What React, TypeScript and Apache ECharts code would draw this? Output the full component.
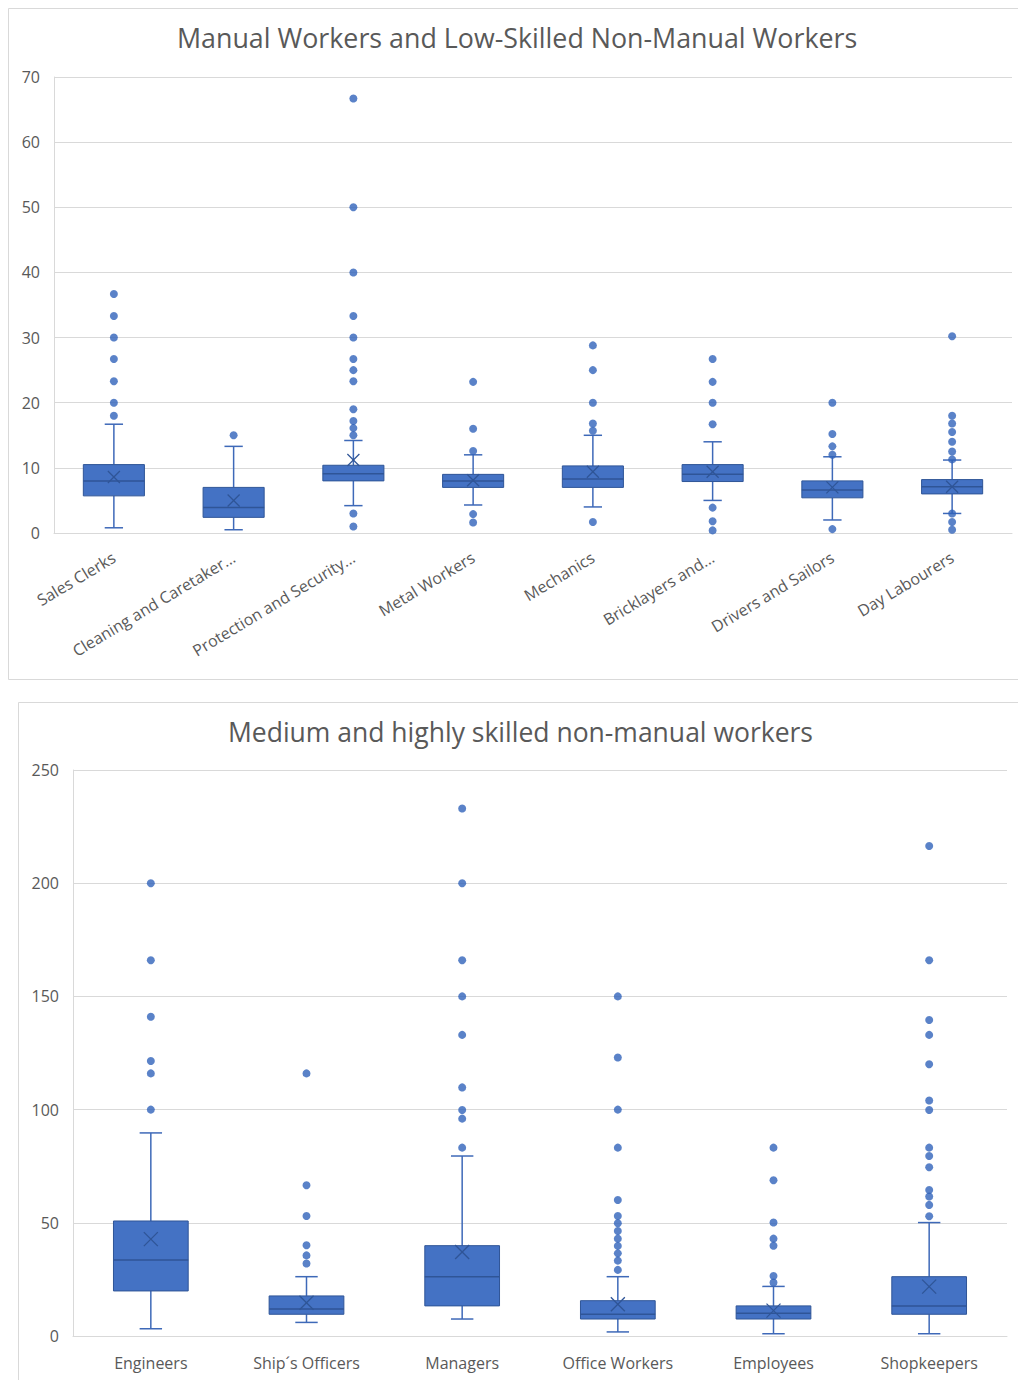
import React, { useEffect, useRef } from "react";
import * as echarts from "echarts";

// ---------- Chart 1 data ----------
const cats1 = [
  "Sales Clerks",
  "Cleaning and Caretaker…",
  "Protection and Security…",
  "Metal Workers",
  "Mechanics",
  "Bricklayers and…",
  "Drivers and Sailors",
  "Day Labourers",
];
// [min whisker, Q1, median, Q3, max whisker]
const box1 = [
  [0.8, 5.7, 8.0, 10.5, 16.7],
  [0.5, 2.4, 3.9, 7.0, 13.3],
  [4.2, 8.0, 9.1, 10.4, 14.2],
  [4.3, 7.0, 8.0, 9.0, 12.0],
  [4.0, 7.0, 8.3, 10.3, 15.0],
  [5.0, 7.9, 9.0, 10.5, 14.0],
  [2.0, 5.4, 6.6, 8.0, 11.7],
  [3.0, 6.0, 7.1, 8.2, 11.2],
];
const mean1 = [8.6, 5.0, 11.2, 8.1, 9.4, 9.4, 7.0, 7.1];
const out1 = [
  [36.7, 33.3, 30, 26.7, 23.3, 20, 18],
  [15],
  [66.7, 50, 40, 33.3, 30, 26.7, 25, 23.3, 19, 17.2, 16.1, 15, 3.0, 1.0],
  [23.2, 16, 12.6, 2.9, 1.6],
  [28.8, 25, 20, 16.8, 15.7, 1.7],
  [26.7, 23.2, 20, 16.7, 3.9, 1.8, 0.4],
  [20, 15.2, 13.3, 12.0, 0.6],
  [30.2, 18, 16.8, 15.5, 14, 12.5, 11.3, 3.0, 1.7, 0.5],
];
const yTicks1 = { min: 0, max: 70, interval: 10 };

// ---------- Chart 2 data ----------
const cats2 = ["Engineers", "Ship\u00b4s Officers", "Managers", "Office Workers", "Employees", "Shopkeepers"];
const box2 = [
  [3.2, 19.9, 33.6, 50.8, 89.7],
  [6.0, 9.6, 11.9, 17.7, 26.2],
  [7.5, 13.3, 26.2, 39.9, 79.5],
  [1.8, 7.5, 9.6, 15.6, 26.2],
  [1.0, 7.5, 10.0, 13.3, 21.9],
  [1.0, 9.6, 13.3, 26.2, 50.1],
];
const mean2 = [42.8, 14.7, 37.1, 14.0, 11.2, 21.8];
const out2 = [
  [200, 166, 141, 121.5, 116, 100],
  [116, 66.6, 53, 40.1, 35.6, 32],
  [233, 200, 166, 150, 133, 109.8, 99.8, 96, 83.2],
  [150, 123, 100, 83.2, 60.1, 53, 49.8, 46.4, 43, 39.8, 36.5, 33.3, 29.2],
  [83.2, 68.8, 50.1, 43, 39.9, 26.5, 23.6],
  [216.4, 166, 139.6, 133, 120, 104, 99.8, 83.2, 79.5, 74.5, 64.5, 61.6, 57.9, 52.9],
];
const yTicks2 = { min: 0, max: 250, interval: 50 };

const title1 = "Manual Workers and Low-Skilled Non-Manual Workers";
const title2 = "Medium and highly skilled non-manual workers";

const FONT = "Open Sans";
const TXT = "#595959";
const FILL = "#4472C4";
const DARK = "#2F5597";
const WHISK = "#3E69B8";
const DOT = "#3163BA";

function boxRender(boxFrac: number, capFrac: number, xSize: number) {
  return (params: any, api: any) => {
    const idx = api.value(0);
    const pMin = api.coord([idx, api.value(1)]);
    const pQ1 = api.coord([idx, api.value(2)]);
    const pMed = api.coord([idx, api.value(3)]);
    const pQ3 = api.coord([idx, api.value(4)]);
    const pMax = api.coord([idx, api.value(5)]);
    const pMean = api.coord([idx, api.value(6)]);
    const bw = api.size([1, 0])[0] * boxFrac;
    const cw = bw * capFrac;
    const cx = pMed[0];
    const lineStyle = { stroke: WHISK, lineWidth: 1.5 };
    const h = xSize / 2;
    return {
      type: "group",
      children: [
        { type: "line", shape: { x1: cx, y1: pMax[1], x2: cx, y2: pQ3[1] }, style: lineStyle },
        { type: "line", shape: { x1: cx, y1: pQ1[1], x2: cx, y2: pMin[1] }, style: lineStyle },
        { type: "line", shape: { x1: cx - cw / 2, y1: pMax[1], x2: cx + cw / 2, y2: pMax[1] }, style: lineStyle },
        { type: "line", shape: { x1: cx - cw / 2, y1: pMin[1], x2: cx + cw / 2, y2: pMin[1] }, style: lineStyle },
        {
          type: "rect",
          shape: { x: cx - bw / 2, y: pQ3[1], width: bw, height: pQ1[1] - pQ3[1] },
          style: { fill: FILL, stroke: DARK, lineWidth: 1 },
        },
        { type: "line", shape: { x1: cx - bw / 2, y1: pMed[1], x2: cx + bw / 2, y2: pMed[1] }, style: { stroke: DARK, lineWidth: 1.5 } },
        { type: "line", shape: { x1: cx - h, y1: pMean[1] - h, x2: cx + h, y2: pMean[1] + h }, style: { stroke: DARK, lineWidth: 1.3 } },
        { type: "line", shape: { x1: cx - h, y1: pMean[1] + h, x2: cx + h, y2: pMean[1] - h }, style: { stroke: DARK, lineWidth: 1.3 } },
      ],
    };
  };
}

export default function App() {
  const ref = useRef<HTMLDivElement>(null);
  useEffect(() => {
    if (!ref.current) return;
    const chart = echarts.init(ref.current, undefined, { renderer: "svg" });
    const boxData1 = box1.map((b, i) => [i, ...b, mean1[i]]);
    const boxData2 = box2.map((b, i) => [i, ...b, mean2[i]]);
    const outData1: number[][] = [];
    out1.forEach((arr, i) => arr.forEach((v) => outData1.push([i, v])));
    const outData2: number[][] = [];
    out2.forEach((arr, i) => arr.forEach((v) => outData2.push([i, v])));

    const yAxisCommon = {
      type: "value",
      axisLine: { show: true, lineStyle: { color: "#D9D9D9", width: 1 } },
      axisTick: { show: false },
      splitLine: { show: true, lineStyle: { color: "#D9D9D9", width: 1 } },
      axisLabel: { color: TXT, fontFamily: FONT, fontSize: 16, margin: 14 },
    };
    const xAxisCommon = {
      type: "category",
      boundaryGap: true,
      axisLine: { show: true, lineStyle: { color: "#D9D9D9", width: 1 } },
      axisTick: { show: false },
    };

    chart.setOption({
      animation: false,
      backgroundColor: "#ffffff",
      title: [
        {
          text: title1,
          left: 172,
          top: 19,
          textStyle: { color: TXT, fontFamily: FONT, fontSize: 26.8, fontWeight: "normal" },
        },
        {
          text: title2,
          left: 223,
          top: 713,
          textStyle: { color: TXT, fontFamily: FONT, fontSize: 26.5, fontWeight: "normal" },
        },
      ],
      graphic: [
        { type: "rect", shape: { x: 8.5, y: 8.5, width: 1030, height: 671 }, style: { fill: "none", stroke: "#D9D9D9", lineWidth: 1 } },
        { type: "rect", shape: { x: 18.5, y: 702.5, width: 1030, height: 700 }, style: { fill: "none", stroke: "#D9D9D9", lineWidth: 1 } },
      ],
      grid: [
        { left: 54, top: 77, width: 958, height: 456 },
        { left: 73, top: 770, width: 934, height: 566 },
      ],
      xAxis: [
        {
          ...xAxisCommon,
          gridIndex: 0,
          data: cats1,
          axisLabel: { color: TXT, fontFamily: FONT, fontSize: 16, rotate: 31, interval: 0, margin: 23 },
        },
        {
          ...xAxisCommon,
          gridIndex: 1,
          data: cats2,
          axisLabel: { color: TXT, fontFamily: FONT, fontSize: 16, interval: 0, margin: 19 },
        },
      ],
      yAxis: [
        { ...yAxisCommon, gridIndex: 0, ...yTicks1 },
        { ...yAxisCommon, gridIndex: 1, ...yTicks2 },
      ],
      series: [
        {
          type: "custom",
          xAxisIndex: 0,
          yAxisIndex: 0,
          renderItem: boxRender(0.51, 0.3, 12),
          encode: { x: 0, y: [1, 2, 3, 4, 5, 6] },
          data: boxData1,
          z: 2,
        },
        {
          type: "scatter",
          xAxisIndex: 0,
          yAxisIndex: 0,
          symbol: "circle",
          symbolSize: 8,
          itemStyle: { color: DOT },
          data: outData1,
          z: 3,
        },
        {
          type: "custom",
          xAxisIndex: 1,
          yAxisIndex: 1,
          renderItem: boxRender(0.48, 0.3, 14),
          encode: { x: 0, y: [1, 2, 3, 4, 5, 6] },
          data: boxData2,
          z: 2,
        },
        {
          type: "scatter",
          xAxisIndex: 1,
          yAxisIndex: 1,
          symbol: "circle",
          symbolSize: 8,
          itemStyle: { color: DOT },
          data: outData2,
          z: 3,
        },
      ],
    });
    return () => chart.dispose();
  }, []);
  return (
    <div
      ref={ref}
      style={{ position: "absolute", left: 0, top: 0, width: 1018, height: 1380, background: "#fff" }}
    />
  );
}
